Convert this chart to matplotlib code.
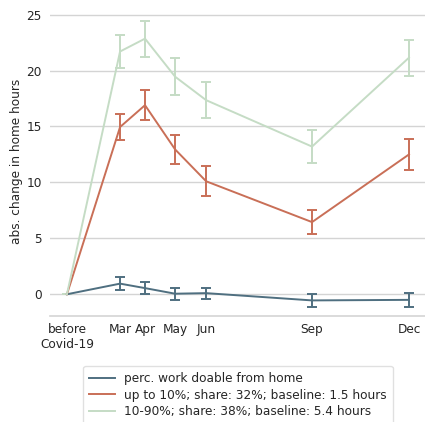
import matplotlib
matplotlib.use("Agg")
import matplotlib.pyplot as plt
from matplotlib.lines import Line2D

# data
tick_labels = ["before\nCovid-19", "Mar", "Apr", "May", "Jun", "Sep", "Dec"]
x_pos = [1.31, 2.97, 3.75, 4.69, 5.66, 8.97, 12.0]

low_vals = [0, 0.95, 0.55, 0.05, 0.1, -0.55, -0.5]
low_err = [0, 0.55, 0.55, 0.55, 0.5, 0.58, 0.6]

mid_vals = [0, 14.95, 16.9, 12.95, 10.1, 6.45, 12.5]
mid_err = [0, 1.15, 1.35, 1.3, 1.35, 1.1, 1.35]

high_vals = [0, 21.7, 22.85, 19.45, 17.35, 13.2, 21.15]
high_err = [0, 1.45, 1.6, 1.65, 1.6, 1.5, 1.6]

labels = ["perc. work doable from home",
          "up to 10%; share: 32%; baseline: 1.5 hours",
          "10-90%; share: 38%; baseline: 5.4 hours"]
colors = ["#4f6f80", "#c96f57", "#c5dcc5"]

FS = 8.7
fig = plt.figure(figsize=(4.25, 4.22), dpi=100)
ax = fig.add_axes([0.1176, 0.251, 0.8824, 0.733])

for vals, err, c in zip([low_vals, mid_vals, high_vals],
                        [low_err, mid_err, high_err], colors):
    ax.errorbar(x_pos, vals, yerr=err, color=c, lw=1.4, capsize=3.5,
                capthick=1.4, elinewidth=1.4)

ax.set_xlim(0.78, 12.5)
ax.set_ylim(-1.95, 25.7)
ax.set_yticks([0, 5, 10, 15, 20, 25])
ax.set_xticks(x_pos)
ax.set_xticklabels(tick_labels)
ax.yaxis.grid(True, color="#d4d4d4", lw=1)
ax.set_axisbelow(True)
for s in ["top", "right", "left"]:
    ax.spines[s].set_visible(False)
ax.spines["bottom"].set_color("#d4d4d4")
ax.spines["bottom"].set_linewidth(1.2)
ax.tick_params(axis="both", length=0, labelsize=FS, colors="#262626")
ax.tick_params(axis="y", pad=6)
ax.tick_params(axis="x", pad=5)
ax.set_ylabel("abs. change in home hours", fontsize=FS, color="#262626", labelpad=2)

handles = [Line2D([], [], color=c, lw=1.4) for c in colors]
leg = fig.legend(handles, labels, loc="upper center", bbox_to_anchor=(0.56, 0.133),
                 fontsize=FS, frameon=True, handlelength=2.1, borderpad=0.5,
                 labelspacing=0.3, borderaxespad=0)
leg.get_frame().set_edgecolor("#d9d9d9")
for t in leg.get_texts():
    t.set_color("#262626")

fig.savefig("out.png", dpi=100)
